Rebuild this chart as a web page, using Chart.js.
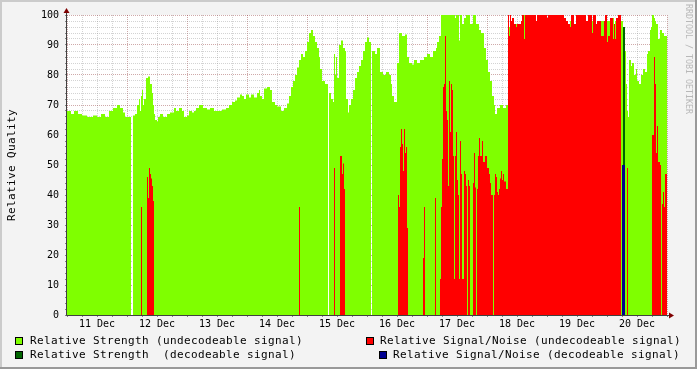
<!DOCTYPE html>
<html>
<head>
<meta charset="utf-8">
<script src="https://cdn.jsdelivr.net/npm/chart.js@4.4.1/dist/chart.umd.min.js"></script>
<style>
  html, body { margin: 0; padding: 0; background: #f3f3f3; }
  canvas { display: block; }
</style>
</head>
<body>
<canvas id="chart" width="697" height="369"></canvas>
<script>
/* signal quality graph, rrdtool look */

// x = 24-minute slot counted from 11 Dec 00:00 (600 slots = 10 days)
const dayLabels = ['11 Dec', '12 Dec', '13 Dec', '14 Dec', '15 Dec', '16 Dec', '17 Dec', '18 Dec', '19 Dec', '20 Dec'];

const seriesNames = [
    'Relative Strength (undecodeable signal)',
    'Relative Strength  (decodeable signal)',
    'Relative Signal/Noise (undecodeable signal)',
    'Relative Signal/Noise (decodeable signal)'
];

// Relative Strength (undecodeable) - value holds from slot until the next one
const strengthT = [
    0, 4, 7, 11, 15, 20, 26, 30, 34, 38,
    42, 46, 50, 53, 56, 58, 64, 66, 68, 70,
    72, 73, 74, 75, 76, 77, 79, 81, 83, 85,
    86, 87, 88, 90, 91, 93, 96, 100, 103, 107,
    109, 112, 115, 117, 120, 122, 125, 127, 129, 132,
    136, 140, 143, 147, 152, 155, 159, 162, 165, 168,
    170, 173, 175, 177, 179, 182, 184, 187, 190, 192,
    193, 195, 197, 200, 203, 205, 208, 210, 214, 217,
    220, 222, 224, 226, 228, 230, 232, 234, 236, 238,
    240, 242, 244, 246, 248, 250, 252, 253, 255, 258,
    261, 262, 264, 266, 267, 268, 269, 270, 272, 274,
    276, 278, 279, 281, 282, 284, 286, 288, 290, 292,
    294, 296, 298, 300, 302, 304, 305, 308, 310, 313,
    316, 319, 322, 324, 325, 327, 330, 332, 335, 338,
    340, 342, 345, 347, 350, 353, 357, 360, 363, 366,
    369, 370, 372, 374, 388, 389, 392, 393, 395, 397,
    399, 403, 406, 409, 412, 414, 417, 419, 421, 423,
    425, 427, 428, 430, 433, 436, 439, 441, 442, 443,
    457, 458, 503, 504, 525, 526, 534, 537, 540, 543,
    546, 547, 548, 549, 554, 556, 558, 559, 560, 561,
    562, 564, 565, 567, 569, 570, 572, 574, 576, 578,
    580, 581, 583, 584, 585, 587, 588, 589, 591, 593,
    595, 597
];
const strengthV = [
    68, 67, 68, 67, 66.5, 66, 66.5, 66, 67, 66,
    68, 69, 70, 69, 67.5, 66, 0, 66.5, 67, 70,
    72, 68, 73, 75, 70, 72, 79, 79.5, 77, 74,
    70, 67, 65, 64.5, 66, 67, 66, 67, 67.5, 69,
    68, 69, 68, 66, 66.5, 68, 67.5, 68, 69, 70,
    69, 68.5, 69, 68, 68, 68.5, 69, 70, 71, 71.5,
    72.5, 73.5, 73, 72, 73.5, 72.5, 73.5, 72.5, 74, 75,
    73, 72, 75.5, 76, 75, 71, 70, 69.5, 68, 69,
    70.5, 73, 76, 78, 80, 82.5, 85, 87, 86, 88,
    91, 94, 95, 93, 91, 89, 86, 82, 78, 77,
    0, 74, 72, 71, 87, 80, 86, 79, 90, 91.5,
    89, 88, 72, 67.5, 70, 72, 75, 79, 81, 83,
    85, 88, 91, 92.5, 91, 0, 88, 87, 89, 81,
    80, 81, 80, 77, 73, 71, 84, 94, 93, 93.5,
    86, 84, 83.5, 85, 84, 85, 86, 87, 86, 88,
    89, 91, 93, 100, 99, 100, 91.5, 100, 97, 99,
    100, 97, 100, 97, 95, 94, 89, 85, 81, 78,
    73, 70, 67, 69, 70, 69, 70, 97, 96, 97,
    100, 97, 98, 97, 98, 97, 98, 97, 98, 97,
    99, 97, 98, 97, 98, 96, 88, 77, 68, 66,
    85, 83, 84, 80, 82, 78, 77, 80, 82, 81,
    87, 88, 95, 96, 100, 99, 98, 97, 92, 95,
    94, 93
];

// Relative Signal/Noise (undecodeable)
const snT = [
    0, 74, 75, 80, 81, 82, 83, 84, 85, 86,
    87, 232, 233, 267, 268, 273, 275, 276, 277, 278,
    331, 332, 333, 334, 335, 336, 337, 338, 339, 340,
    341, 356, 357, 358, 368, 369, 373, 374, 375, 376,
    377, 378, 379, 380, 381, 382, 383, 384, 385, 386,
    387, 388, 389, 390, 391, 392, 393, 394, 395, 397,
    398, 399, 400, 401, 402, 403, 406, 407, 408, 409,
    410, 411, 412, 413, 415, 416, 418, 420, 422, 423,
    424, 426, 427, 428, 429, 430, 431, 432, 433, 434,
    435, 436, 437, 439, 441, 442, 443, 444, 445, 447,
    449, 450, 454, 455, 457, 458, 469, 470, 480, 481,
    497, 499, 501, 503, 504, 507, 509, 519, 521, 525,
    526, 529, 530, 534, 537, 538, 540, 541, 543, 546,
    547, 548, 549, 551, 554, 560, 561, 585, 587, 588,
    589, 590, 591, 593, 594, 595, 596, 597, 598
];
const snV = [
    0, 36, 0, 46, 39, 49, 47, 45.5, 43, 38,
    0, 36, 0, 49, 0, 53, 47, 50.5, 42, 0,
    40, 36, 56, 62, 57, 48, 62, 54, 56, 29,
    0, 19, 36, 0, 39, 0, 12, 36, 52, 76,
    77, 93, 68, 65, 43, 78, 61, 77, 75, 53,
    12, 53, 61, 45, 40, 12, 58, 47, 12, 48,
    47, 43, 0, 45, 43, 0, 44, 54, 42.5, 0,
    42, 53, 59, 53, 58, 51, 53, 49, 47, 44,
    40, 0, 40, 47, 46, 41, 40, 42, 45.5, 48,
    45, 47, 44.5, 42, 100, 93, 100, 98, 99, 97,
    96, 97, 98, 100, 92, 100, 98, 100, 99, 100,
    99, 98, 97, 96, 100, 97, 100, 98, 100, 94,
    100, 97, 98, 93, 98, 100, 91, 93, 99, 92,
    97, 92, 99, 100, 0, 49, 0, 60, 86, 77,
    54, 63, 51, 50, 0, 37, 41, 36, 47
];

// decodeable signal (only one short burst on 20 Dec)
const strengthDecT = [0, 556, 558];
const strengthDecV = [0, 96, 0];
const snDecT = [0, 555, 558];
const snDecV = [0, 50, 0];

const seriesColors = ['#7fff00', '#006400', '#ff0000', '#000090'];

const SLOTS = 600;
const MGRID = 'rgba(130,30,30,0.38)';
const GRID = 'rgba(140,140,140,0.38)';
const MONO = "'DejaVu Sans Mono', monospace";

function toSteps(t, v) {
    const pts = t.map((x, i) => ({ x: x, y: v[i] }));
    pts.push({ x: SLOTS, y: v[v.length - 1] });
    return pts;
}

function area(idx, t, v, order) {
    return {
        label: seriesNames[idx],
        data: toSteps(t, v),
        stepped: true,
        fill: 'origin',
        backgroundColor: seriesColors[idx],
        borderColor: 'rgba(0,0,0,0)',
        borderWidth: 0,
        pointRadius: 0,
        order: order
    };
}

// background, frame, axes, arrows, legend and side texts
const rrdLook = {
    id: 'rrdLook',
    beforeDraw(chart) {
        const { ctx, chartArea: a, width, height } = chart;
        ctx.save();
        ctx.fillStyle = '#f3f3f3';
        ctx.fillRect(0, 0, width, height);
        ctx.fillStyle = '#cbcbcb';
        ctx.fillRect(0, 0, width, 2);
        ctx.fillRect(0, 0, 2, height);
        ctx.fillStyle = '#999999';
        ctx.fillRect(0, height - 2, width, 2);
        ctx.fillRect(width - 2, 0, 2, height);
        ctx.fillStyle = '#ffffff';
        ctx.fillRect(a.left, a.top, a.right - a.left, a.bottom - a.top);
        ctx.restore();
    },
    afterDraw(chart) {
        const { ctx, chartArea: a } = chart;
        const ax = a.left - 0.5;
        const ay = a.bottom + 0.5;
        ctx.save();

        // axes
        ctx.strokeStyle = '#404040';
        ctx.lineWidth = 1;
        ctx.beginPath();
        ctx.moveTo(ax, ay);
        ctx.lineTo(ax, a.top - 3);
        ctx.moveTo(ax, ay);
        ctx.lineTo(a.right + 2, ay);
        ctx.stroke();

        ctx.fillStyle = '#7f0000';
        ctx.beginPath();
        ctx.moveTo(ax, a.top - 7);
        ctx.lineTo(ax - 3, a.top - 2);
        ctx.lineTo(ax + 3, a.top - 2);
        ctx.closePath();
        ctx.fill();
        ctx.beginPath();
        ctx.moveTo(a.right + 7, ay);
        ctx.lineTo(a.right + 2, ay - 3);
        ctx.lineTo(a.right + 2, ay + 3);
        ctx.closePath();
        ctx.fill();

        // y title
        ctx.fillStyle = '#000';
        ctx.font = '11px ' + MONO;
        ctx.letterSpacing = '0.38px';
        ctx.textBaseline = 'middle';
        ctx.textAlign = 'center';
        ctx.save();
        ctx.translate(12, (a.top + a.bottom) / 2);
        ctx.rotate(-Math.PI / 2);
        ctx.fillText('Relative Quality', 0, 0);
        ctx.restore();

        // legend
        const spots = [[15, 337, 30, 341], [15, 351, 30, 355.5], [366, 337, 380, 341], [379, 351, 393, 355.5]];
        ctx.textAlign = 'left';
        spots.forEach((p, i) => {
            ctx.fillStyle = seriesColors[i];
            ctx.fillRect(p[0], p[1], 8, 8);
            ctx.strokeStyle = '#000';
            ctx.strokeRect(p[0] + 0.5, p[1] + 0.5, 7, 7);
            ctx.fillStyle = '#000';
            ctx.fillText(seriesNames[i], p[2], p[3]);
        });

        // watermark on the right
        ctx.letterSpacing = '0px';
        ctx.font = '8.3px ' + MONO;
        ctx.fillStyle = '#b8b8b8';
        ctx.translate(688, 4);
        ctx.rotate(Math.PI / 2);
        ctx.fillText('RRDTOOL / TOBI OETIKER', 0, 0);
        ctx.restore();
    }
};

new Chart(document.getElementById('chart'), {
    type: 'line',
    data: {
        datasets: [
            area(3, snDecT, snDecV, 1),
            area(2, snT, snV, 2),
            area(1, strengthDecT, strengthDecV, 3),
            area(0, strengthT, strengthV, 4)
        ]
    },
    options: {
        responsive: false,
        animation: false,
        devicePixelRatio: 1,
        layout: { padding: { top: 15, right: 30, left: 0, bottom: 0 } },
        plugins: {
            legend: { display: false },
            tooltip: { enabled: false }
        },
        scales: {
            x: {
                type: 'linear',
                min: 0,
                max: SLOTS,
                z: 1,
                afterFit: (s) => { s.height = 54; },
                ticks: {
                    stepSize: 15,
                    autoSkip: false,
                    maxRotation: 0,
                    padding: 1,
                    color: '#000',
                    font: { family: MONO, size: 10 },
                    callback: (v) => (v % 60 === 30 ? dayLabels[(v - 30) / 60] : '')
                },
                grid: {
                    color: (c) => (c.tick && c.tick.value % 60 === 0 ? MGRID : GRID),
                    tickLength: 2,
                    tickColor: 'rgba(60,60,60,0.6)',
                    tickBorderDash: []
                },
                border: { display: false, dash: [1, 1] }
            },
            y: {
                min: 0,
                max: 100,
                z: 1,
                afterFit: (s) => { s.width = 67; },
                ticks: {
                    stepSize: 2,
                    autoSkip: false,
                    padding: 6,
                    color: '#000',
                    font: { family: MONO, size: 10 },
                    callback: (v) => (v % 10 === 0 ? v : '')
                },
                grid: {
                    color: (c) => (c.tick && c.tick.value % 10 === 0 ? MGRID : GRID),
                    tickLength: 2,
                    tickColor: 'rgba(60,60,60,0.6)',
                    tickBorderDash: []
                },
                border: { display: false, dash: [1, 1] }
            }
        }
    },
    plugins: [rrdLook]
});
</script>
</body>
</html>
